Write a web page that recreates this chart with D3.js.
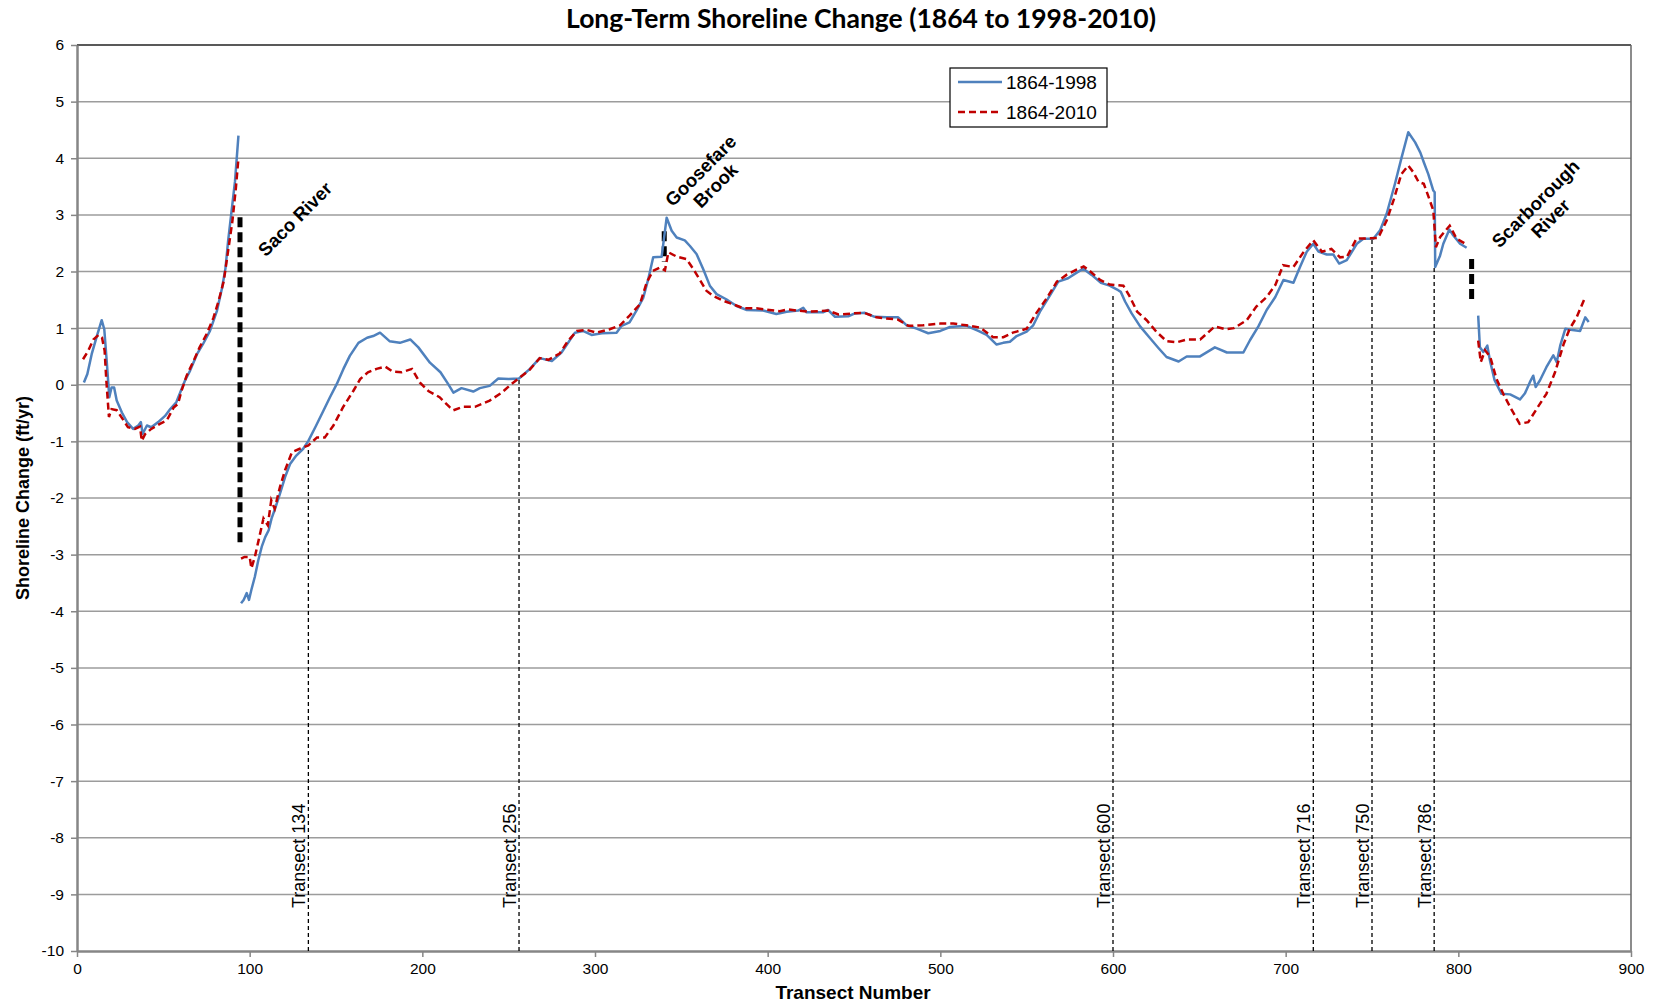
<!DOCTYPE html>
<html>
<head>
<meta charset="utf-8">
<script src="https://cdn.jsdelivr.net/npm/d3@7"></script>
<style>
  body { margin: 0; background: #fff; }
  text { font-family: "Liberation Sans", Arial, sans-serif; }
</style>
</head>
<body>
<div id="chart-area"></div>
<script>
// chart size
width = 1655;
height = 1006;

// 1864-1998 rates, [transect, ft/yr], null = break in the line
let series1998 = [
  [4,0.04],[6,0.19],[8.5,0.54],[11.5,0.86],[14.3,1.14],[15.8,0.98],[17.2,0.42],[18.7,-0.22],[20,-0.05],[21.5,-0.05],
  [23,-0.28],[26,-0.49],[29,-0.66],[32.5,-0.78],[35.5,-0.72],[37,-0.66],[38,-0.87],[40.5,-0.72],[43,-0.75],[47,-0.66],
  [51,-0.55],[54,-0.43],[57.5,-0.31],[62.5,0.07],[65.5,0.25],[69.5,0.54],[73,0.72],[77,0.95],[81,1.3],[84,1.71],
  [86,2.06],[87.5,2.53],[89.5,3.06],[91.5,3.59],[93.5,4.4],
  null,
  [95,-3.86],[96.5,-3.8],[98.3,-3.68],[99.6,-3.8],[101,-3.62],[103,-3.39],[105,-3.1],[107,-2.86],[109,-2.69],[111,-2.57],
  [112.7,-2.36],[114.7,-2.19],[117.6,-1.92],[120.5,-1.63],[123.4,-1.4],[127,-1.25],[131,-1.13],[134,-0.99],[138,-0.75],
  [142.7,-0.46],[146.5,-0.22],[150.4,0.01],[154.3,0.28],[158,0.51],[163,0.74],[168,0.83],[171.5,0.86],[175.5,0.92],
  [181,0.77],[187,0.74],[193,0.8],[197.7,0.66],[204.4,0.39],[210.5,0.22],[215,0.01],[218,-0.14],[222.7,-0.06],
  [229.5,-0.12],[233.3,-0.06],[239,-0.02],[244,0.11],[250,0.1],[256,0.11],[262.3,0.28],[268,0.47],[275,0.42],
  [280.6,0.57],[288.4,0.92],[293,0.95],[298,0.88],[304,0.91],[312.5,0.92],[315.4,1.04],[320,1.1],[324,1.31],
  [328,1.54],[330.8,1.86],[333.7,2.25],[338.6,2.26],[341.5,2.95],[344.4,2.72],[347.3,2.6],[352,2.55],[355,2.45],
  [358.8,2.31],[362.7,2.04],[366.5,1.75],[370.4,1.6],[376,1.51],[382,1.39],[388,1.32],[397.4,1.31],[405,1.25],
  [411,1.29],[417.7,1.31],[420.6,1.36],[422.5,1.28],[432,1.28],[435,1.32],[439,1.2],[446.7,1.21],[450.5,1.26],
  [456.3,1.27],[462,1.2],[469,1.19],[475.6,1.19],[480.5,1.05],[486.3,0.99],[493,0.91],[500,0.95],[505.6,1.02],
  [515.2,1.04],[522,0.95],[526.8,0.88],[532.6,0.71],[536.4,0.74],[540.3,0.76],[544.2,0.86],[550,0.94],[553.8,1.05],
  [557.7,1.29],[563.5,1.58],[568.3,1.82],[574,1.88],[579,1.98],[582.8,2.05],[587.6,1.94],[593,1.8],[598,1.75],
  [603,1.67],[604.5,1.64],[607,1.47],[610.8,1.26],[615.7,1.03],[621.5,0.82],[626.3,0.65],[631,0.49],[638,0.41],
  [642.7,0.5],[650.4,0.5],[659,0.66],[666,0.57],[675.5,0.57],[679.4,0.79],[684.2,1.03],[689,1.32],[694,1.55],
  [698.7,1.85],[704.5,1.8],[708.3,2.08],[712.2,2.35],[716,2.49],[719,2.35],[723.8,2.3],[727.6,2.3],[731,2.14],
  [735.4,2.2],[741.2,2.49],[745,2.58],[750.8,2.58],[754.7,2.73],[758.5,3.02],[763.3,3.55],[767.2,4.02],[771,4.46],
  [775,4.28],[778,4.1],[780,3.93],[782.6,3.72],[785.5,3.43],[786.3,3.4],[786.6,2.08],[789.4,2.28],[791.3,2.49],
  [794.8,2.74],[797,2.64],[801,2.49],[804.8,2.42],
  null,
  [811.5,1.22],[812.5,0.66],[814.5,0.58],[816.8,0.69],[818.3,0.43],[821,0.08],[825,-0.16],[830,-0.17],[835.7,-0.26],
  [838.6,-0.15],[841.5,0.05],[843.4,0.16],[844.8,-0.04],[847.3,0.08],[851,0.31],[855,0.52],[857,0.4],[859,0.69],
  [862,0.99],[865,0.97],[870.5,0.95],[873.5,1.19],[875.5,1.11]
];

// 1864-2010 rates
let series2010 = [
  [3.5,0.45],[6.5,0.6],[9.5,0.8],[12.5,0.88],[14.5,0.83],[16,0.6],[17,0.07],[18.5,-0.57],[20,-0.43],[23,-0.45],
  [27,-0.63],[29.5,-0.75],[33.5,-0.78],[36.5,-0.74],[37.5,-0.99],[39.5,-0.87],[43,-0.78],[48,-0.69],[52,-0.63],
  [56,-0.4],[58.5,-0.34],[60.5,-0.11],[63.5,0.16],[67.5,0.42],[71,0.66],[75,0.89],[79,1.18],[82,1.48],[85,1.83],
  [87.5,2.36],[90,2.89],[92,3.47],[93.5,4.0],
  null,
  [95,-3.07],[97,-3.04],[100,-3.04],[101,-3.24],[103,-3.04],[105,-2.77],[108,-2.36],[110.5,-2.48],[112.5,-2.04],
  [114.5,-2.19],[117.5,-1.81],[120.5,-1.51],[124.5,-1.19],[129,-1.13],[134,-1.07],[139,-0.93],[143.5,-0.93],
  [148.5,-0.72],[154,-0.4],[160,-0.11],[164,0.1],[168.5,0.22],[173.5,0.28],[178.5,0.32],[183,0.23],[188,0.22],
  [194,0.28],[198.5,0.04],[203.5,-0.11],[210,-0.22],[216,-0.4],[218,-0.45],[223.5,-0.39],[230.5,-0.39],[239,-0.28],
  [246,-0.14],[251.5,0.01],[256.5,0.13],[262,0.26],[268,0.47],[273,0.44],[279.5,0.55],[284.5,0.78],[289.5,0.95],
  [295,0.97],[301,0.92],[308.5,0.98],[314.5,1.05],[320,1.22],[326,1.42],[330,1.81],[333.5,2.01],[337.5,2.07],
  [340.5,2.02],[342.5,2.34],[347.5,2.26],[353,2.22],[357,2.04],[361,1.84],[364.5,1.66],[368.5,1.57],[374.5,1.48],
  [380,1.42],[386,1.35],[393.5,1.35],[401,1.32],[407,1.3],[412,1.33],[417,1.31],[424,1.29],[435,1.31],[441,1.24],
  [449.5,1.26],[456,1.27],[463,1.19],[475.5,1.15],[481.5,1.04],[490,1.05],[500,1.08],[507.5,1.08],[515,1.05],
  [523,1.01],[530.5,0.84],[536.5,0.84],[542,0.92],[550,0.99],[555.5,1.26],[561.5,1.52],[567.5,1.82],[573,1.94],
  [578,2.02],[583,2.09],[586.5,2.01],[592.5,1.85],[598,1.77],[606,1.75],[609.5,1.57],[614,1.29],[619.5,1.14],
  [625,0.94],[631,0.77],[637,0.75],[643,0.8],[650.5,0.8],[659,1.03],[665,0.98],[670,1.0],[677.5,1.14],[683,1.38],
  [689,1.55],[694,1.76],[698.5,2.11],[704.5,2.08],[710.5,2.35],[716,2.55],[721,2.35],[726.5,2.4],[731.5,2.25],
  [735.5,2.26],[741,2.58],[753.5,2.59],[758.5,2.9],[762.5,3.26],[767,3.72],[771,3.87],[774,3.75],[777,3.58],
  [780,3.55],[782.5,3.34],[785.5,3.08],[787,2.43],[789.5,2.61],[795,2.81],[799,2.58],[804,2.49],
  null,
  [811.5,0.78],[813,0.4],[815.5,0.61],[818.5,0.49],[822,0.11],[826,-0.16],[831,-0.45],[835.5,-0.69],[840.5,-0.66],
  [845.5,-0.42],[851,-0.16],[856,0.22],[861,0.72],[864.5,0.99],[868.5,1.19],[873.5,1.55]
];

// reference transects and where their lines stop
let transectIds = [134, 256, 600, 716, 750, 786];
let transectTops = [-1.1, 0.12, 1.6, 2.32, 2.59, 2.09];

// river mouths: transect, low end, high end
let riverAt = [94.4, 340.1, 807.7];
let riverLow = [-2.84, 2.17, 1.46];
let riverHigh = [2.96, 2.71, 2.22];
let riverNames = [["Saco River"], ["Goosefare", "Brook"], ["Scarborough", "River"]];

let xTicks = d3.range(0, 901, 100);
let yTicks = d3.range(-10, 7, 1);

// plot box
let pLeft = 77, pRight = 1631, pTop = 45, pBottom = 951;

let xScale = d3.scaleLinear().domain([0, 900]).range([pLeft, pRight]);
let yScale = d3.scaleLinear().domain([-10, 6]).range([pBottom, pTop]);

svg = d3.select("#chart-area")
  .append("svg")
  .attr("width", width)
  .attr("height", height);

// gridlines
svg.append("g")
  .selectAll("line")
  .data(yTicks.filter(v => v > -10 && v < 6))
  .enter().append("line")
  .attr("x1", pLeft).attr("x2", pRight)
  .attr("y1", d => yScale(d)).attr("y2", d => yScale(d))
  .attr("stroke", "#9c9c9c")
  .attr("stroke-width", 1.5);

// top and right border
svg.append("line")
  .attr("x1", pLeft).attr("x2", pRight).attr("y1", pTop).attr("y2", pTop)
  .attr("stroke", "#222").attr("stroke-width", 1.5);
svg.append("line")
  .attr("x1", pRight).attr("x2", pRight).attr("y1", pTop).attr("y2", pBottom)
  .attr("stroke", "#666").attr("stroke-width", 1.5);

// axes (plain hyphen for negatives, like the original)
let xAxis = d3.axisBottom(xScale).tickValues(xTicks).tickSize(6).tickPadding(6).tickSizeOuter(0)
  .tickFormat(d => String(d));
let yAxis = d3.axisLeft(yScale).tickValues(yTicks).tickSize(6).tickPadding(7).tickSizeOuter(0)
  .tickFormat(d => String(d));

let gx = svg.append("g")
  .attr("transform", "translate(0," + pBottom + ")")
  .call(xAxis);
let gy = svg.append("g")
  .attr("transform", "translate(" + pLeft + ",0)")
  .call(yAxis);

[gx, gy].forEach(g => {
  g.select(".domain").attr("stroke", "#868686").attr("stroke-width", 2.5);
  g.selectAll(".tick line").attr("stroke", "#868686").attr("stroke-width", 1.5);
  g.selectAll(".tick text")
    .attr("fill", "#000")
    .style("font-family", "'Liberation Sans', Arial, sans-serif")
    .style("font-size", "15.5px");
});

// transect marker lines + labels
transectIds.forEach((t, i) => {
  svg.append("line")
    .attr("x1", xScale(t)).attr("x2", xScale(t))
    .attr("y1", pBottom).attr("y2", yScale(transectTops[i]))
    .attr("stroke", "#000")
    .attr("stroke-width", 1.3)
    .attr("stroke-dasharray", "4,3");
  svg.append("text")
    .attr("transform", "translate(" + (xScale(t) - 3) + "," + 908 + ") rotate(-90)")
    .attr("font-size", "18px")
    .text("Transect " + t);
});

// river mouth markers
riverAt.forEach((t, i) => {
  svg.append("line")
    .attr("x1", xScale(t)).attr("x2", xScale(t))
    .attr("y1", yScale(riverHigh[i])).attr("y2", yScale(riverLow[i]))
    .attr("stroke", "#000")
    .attr("stroke-width", 5)
    .attr("stroke-dasharray", "10,5");
});

// data lines
let line = d3.line()
  .defined(d => d !== null)
  .x(d => xScale(d[0]))
  .y(d => yScale(d[1]));

svg.append("path")
  .datum(series1998)
  .attr("d", line)
  .attr("fill", "none")
  .attr("stroke", "#4f81bd")
  .attr("stroke-width", 2.5)
  .attr("stroke-linejoin", "round");

svg.append("path")
  .datum(series2010)
  .attr("d", line)
  .attr("fill", "none")
  .attr("stroke", "#c00000")
  .attr("stroke-width", 2.5)
  .attr("stroke-dasharray", "7,4");

// river names, rotated
let namePos = [[295, 219], [708, 178], [1543, 211]];
riverNames.forEach((lines, i) => {
  let g = svg.append("g")
    .attr("transform", "translate(" + namePos[i][0] + "," + namePos[i][1] + ") rotate(-45)");
  lines.forEach((s, j) => {
    g.append("text")
      .attr("x", 0)
      .attr("y", (j - (lines.length - 1) / 2) * 21)
      .attr("dy", "0.35em")
      .attr("text-anchor", "middle")
      .attr("font-weight", "bold")
      .attr("font-size", "18.5px")
      .text(s);
  });
});

// legend
let legend = svg.append("g");
legend.append("rect")
  .attr("x", 950).attr("y", 68).attr("width", 157).attr("height", 59)
  .attr("fill", "#fff").attr("stroke", "#000").attr("stroke-width", 1.2);
let legendNames = ["1864-1998", "1864-2010"];
let legendColors = ["#4f81bd", "#c00000"];
legendNames.forEach((n, i) => {
  let yy = 82 + i * 30;
  legend.append("line")
    .attr("x1", 958).attr("x2", 1002).attr("y1", yy).attr("y2", yy)
    .attr("stroke", legendColors[i]).attr("stroke-width", 2.5)
    .attr("stroke-dasharray", i == 1 ? "7,4" : null);
  legend.append("text")
    .attr("x", 1006).attr("y", yy).attr("dy", "0.35em")
    .attr("font-size", "19px")
    .text(n);
});

// title and axis titles
svg.append("text")
  .attr("x", 861).attr("y", 28)
  .attr("text-anchor", "middle")
  .attr("font-weight", "bold")
  .attr("font-size", "26.5px")
  .style("font-family", "Lato, 'Open Sans', sans-serif")
  .text("Long-Term Shoreline Change (1864 to 1998-2010)");

svg.append("text")
  .attr("x", 853).attr("y", 999)
  .attr("text-anchor", "middle")
  .attr("font-weight", "bold")
  .attr("font-size", "19px")
  .text("Transect Number");

svg.append("text")
  .attr("transform", "translate(23,498) rotate(-90)")
  .attr("text-anchor", "middle")
  .attr("dy", "0.35em")
  .attr("font-weight", "bold")
  .attr("font-size", "18px")
  .text("Shoreline Change (ft/yr)");
</script>
</body>
</html>
